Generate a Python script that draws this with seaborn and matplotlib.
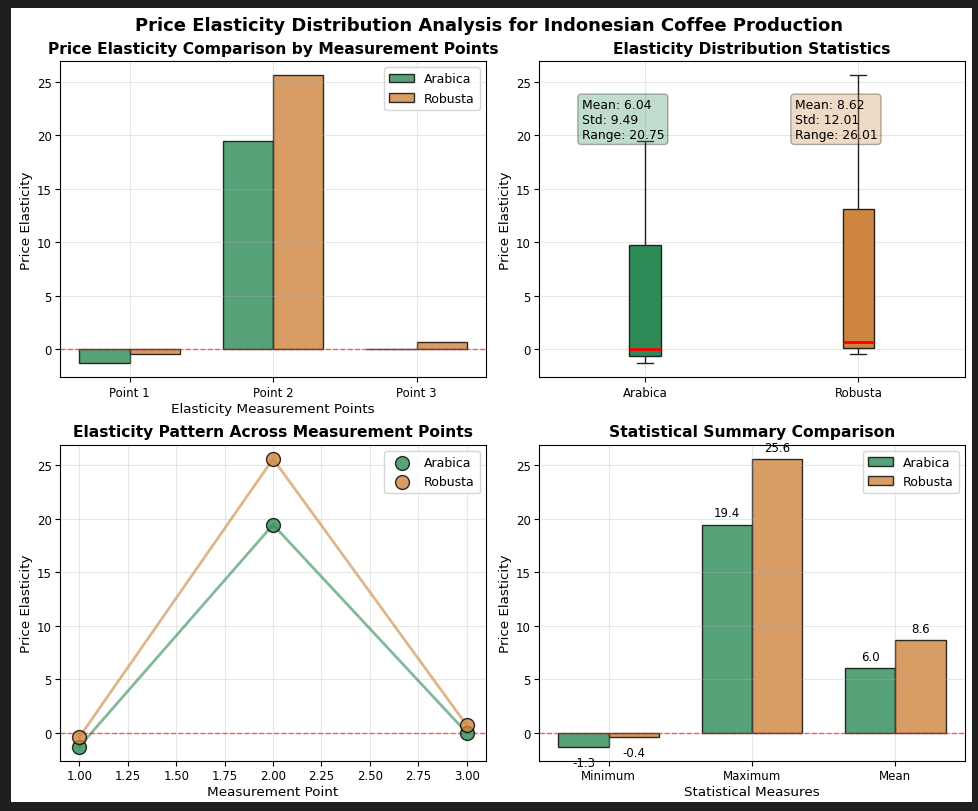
import numpy as np
import pandas as pd
import matplotlib
matplotlib.use("Agg")
import matplotlib.pyplot as plt
from matplotlib.patches import Rectangle
import seaborn as sns

# ---- data ----
points = ["Point 1", "Point 2", "Point 3"]
point_nums = [1, 2, 3]
varieties = ["Arabica", "Robusta"]
arabica = [-1.31, 19.44, -0.01]
robusta = [-0.42, 25.59, 0.69]
stat_names = ["Minimum", "Maximum", "Mean"]

colors = {"Arabica": "#2E8B57", "Robusta": "#CD853F"}

series = {"Arabica": arabica, "Robusta": robusta}
df = pd.DataFrame({
    "point": points * 2,
    "num": point_nums * 2,
    "variety": ["Arabica"] * 3 + ["Robusta"] * 3,
    "value": arabica + robusta,
})
stats_rows = []
for v in varieties:
    arr = np.array(series[v])
    for name, val in zip(stat_names, [arr.min(), arr.max(), arr.mean()]):
        stats_rows.append({"stat": name, "variety": v, "value": val})
sdf = pd.DataFrame(stats_rows)

# ---- figure ----
fig = plt.figure(figsize=(9.79, 8.12), dpi=100)
fig.patch.set_facecolor("#1f1f1f")
fig.add_artist(Rectangle((11 / 979, 9 / 812), 961 / 979, 794 / 812,
                         transform=fig.transFigure, facecolor="white",
                         edgecolor="none", zorder=-10))
axes = fig.subplots(2, 2)
fig.subplots_adjust(left=0.0613, right=0.9857, top=0.9236, bottom=0.0616,
                    wspace=0.124, hspace=0.212)
fig.suptitle("Price Elasticity Distribution Analysis for Indonesian Coffee Production",
             fontsize=13, fontweight="bold", y=0.979)

title_fs = 11.2
label_fs = 9.7
tick_fs = 8.5
legend_fs = 9
edge = (0, 0, 0, 0.75)
zero_kw = dict(color="red", linestyle="--", alpha=0.6, linewidth=1)

# 1. grouped bars
ax = axes[0, 0]
sns.barplot(data=df, x="point", y="value", hue="variety", palette=colors,
            width=0.7, saturation=1, alpha=0.8, edgecolor=edge,
            linewidth=1, ax=ax)
ax.axhline(0, **zero_kw)
ax.set_xlim(-0.485, 2.485)
ax.set_title("Price Elasticity Comparison by Measurement Points",
             fontsize=title_fs, fontweight="bold")
ax.set_xlabel("Elasticity Measurement Points", fontsize=label_fs)
ax.set_ylabel("Price Elasticity", fontsize=label_fs)
ax.legend(loc="upper right", fontsize=legend_fs)
ax.grid(True, alpha=0.3)

# 2. box plot
ax = axes[0, 1]
sns.boxplot(data=df, x="variety", y="value", hue="variety", palette=colors,
            width=0.15, saturation=1, linecolor="#222222", linewidth=1,
            legend=False, ax=ax,
            medianprops=dict(color="red", linewidth=2))
for i, v in enumerate(varieties):
    arr = np.array(series[v])
    txt = f"Mean: {arr.mean():.2f}\nStd: {arr.std():.2f}\nRange: {arr.max() - arr.min():.2f}"
    ax.text(i - 0.3, 23.5, txt, ha="left", va="top", fontsize=8.9,
            bbox=dict(boxstyle="round", facecolor=colors[v], alpha=0.3))
ax.set_xlim(-0.5, 1.5)
ax.set_title("Elasticity Distribution Statistics", fontsize=title_fs,
             fontweight="bold")
ax.set_xlabel("")
ax.set_ylabel("Price Elasticity", fontsize=label_fs)
ax.grid(True, alpha=0.3)

# 3. line pattern
ax = axes[1, 0]
for v in varieties:
    sub = df[df["variety"] == v]
    sns.lineplot(data=sub, x="num", y="value", color=colors[v], alpha=0.6,
                 linewidth=2, ax=ax)
    sns.scatterplot(data=sub, x="num", y="value", color=colors[v], alpha=0.8,
                    s=100, edgecolor="black", linewidth=1, label=v, ax=ax,
                    zorder=3)
ax.axhline(0, **zero_kw)
ax.set_title("Elasticity Pattern Across Measurement Points", fontsize=title_fs,
             fontweight="bold")
ax.set_xlabel("Measurement Point", fontsize=label_fs)
ax.set_ylabel("Price Elasticity", fontsize=label_fs)
ax.legend(loc="upper right", fontsize=legend_fs)
ax.grid(True, alpha=0.3)

# 4. statistical summary bars
ax = axes[1, 1]
sns.barplot(data=sdf, x="stat", y="value", hue="variety", palette=colors,
            width=0.7, saturation=1, alpha=0.8, edgecolor=edge,
            linewidth=1, ax=ax)
for container in ax.containers:
    for bar in container:
        h = bar.get_height()
        cx = bar.get_x() + bar.get_width() / 2
        if h >= 0:
            ax.text(cx, h + 0.5, f"{h:.1f}", ha="center", va="bottom", fontsize=8.5)
        else:
            ax.text(cx, h - 1.45, f"{h:.1f}", ha="center", va="center", fontsize=8.5)
ax.axhline(0, **zero_kw)
ax.set_xlim(-0.485, 2.485)
ax.set_title("Statistical Summary Comparison", fontsize=title_fs,
             fontweight="bold")
ax.set_xlabel("Statistical Measures", fontsize=label_fs)
ax.set_ylabel("Price Elasticity", fontsize=label_fs)
ax.legend(loc="upper right", fontsize=legend_fs)
ax.grid(True, alpha=0.3)

for a in axes.flat:
    a.tick_params(labelsize=tick_fs, pad=2.5)
    a.xaxis.labelpad = 2
    a.yaxis.labelpad = 3

fig.savefig("out.png", dpi=100)
